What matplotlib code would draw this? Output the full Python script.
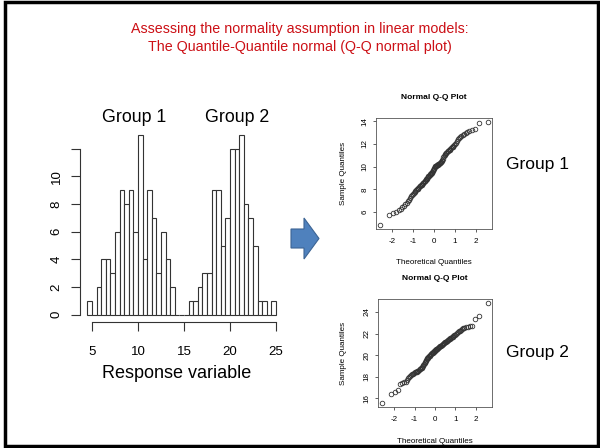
import numpy as np
import matplotlib
matplotlib.use("Agg")
import matplotlib.pyplot as plt
from matplotlib.patches import Polygon, Rectangle
from statistics import NormalDist

plt.rcParams['font.family'] = ['Liberation Sans', 'DejaVu Sans']
plt.rcParams['axes.unicode_minus'] = False

# histogram of the response variable (bins of 0.5 starting at 4.5)
bin_start = 4.5
bin_width = 0.5
counts = [1, 0, 2, 4, 4, 3, 6, 9, 8, 9, 6, 13, 4, 9, 7, 3, 6, 4, 2,
          0, 0, 0,
          1, 1, 2, 3, 3, 9, 9, 5, 7, 12, 12, 13, 8, 7, 5, 1, 1, 0, 1]
yticks = [0, 2, 4, 6, 8, 10, 12]
ytick_labels = ['0', '2', '4', '6', '8', '10', '']
xticks = [5, 10, 15, 20, 25]

# sorted sample values
group1 = [4.88, 5.78, 5.92, 6.05, 6.15, 6.3, 6.45, 6.55, 6.7, 6.85, 6.95,
          7.1, 7.25, 7.4, 7.55, 7.62, 7.7, 7.78, 7.86, 7.94,
          8.03, 8.08, 8.14, 8.2, 8.26, 8.32, 8.38, 8.43, 8.48,
          8.55, 8.6, 8.66, 8.72, 8.78, 8.84, 8.9, 8.96,
          9.03, 9.08, 9.14, 9.2, 9.26, 9.32, 9.38, 9.44, 9.48,
          9.55, 9.62, 9.7, 9.78, 9.86, 9.94,
          10.02, 10.05, 10.08, 10.11, 10.15, 10.19, 10.23, 10.27, 10.31, 10.35, 10.4, 10.44, 10.48,
          10.6, 10.72, 10.84, 10.95,
          11.04, 11.1, 11.16, 11.22, 11.28, 11.34, 11.4, 11.45, 11.49,
          11.56, 11.63, 11.7, 11.77, 11.84, 11.91, 11.97,
          12.1, 12.25, 12.4, 12.56, 12.64, 12.72, 12.8, 12.88, 12.95,
          13.05, 13.15, 13.25, 13.3, 13.88, 13.92]
group2 = [15.58, 16.4, 16.62, 16.8, 17.3, 17.4, 17.48, 17.55, 17.7, 17.9,
          18.03, 18.1, 18.16, 18.22, 18.28, 18.34, 18.4, 18.45, 18.49,
          18.53, 18.58, 18.63, 18.68, 18.73, 18.8, 18.86, 18.92, 18.97,
          19.05, 19.15, 19.25, 19.35, 19.45,
          19.55, 19.62, 19.7, 19.78, 19.86, 19.92, 19.97,
          20.04, 20.08, 20.12, 20.16, 20.2, 20.24, 20.28, 20.32, 20.36, 20.4, 20.44, 20.48,
          20.53, 20.57, 20.61, 20.65, 20.69, 20.73, 20.77, 20.81, 20.85, 20.89, 20.93, 20.97,
          21.02, 21.06, 21.1, 21.14, 21.18, 21.22, 21.26, 21.3, 21.34, 21.38, 21.42, 21.46, 21.49,
          21.55, 21.6, 21.66, 21.72, 21.78, 21.84, 21.9, 21.96,
          22.05, 22.12, 22.2, 22.28, 22.36, 22.42, 22.48,
          22.55, 22.6, 22.64, 22.68, 22.72,
          23.3, 23.65, 24.82]

fig = plt.figure(figsize=(6, 4.48), dpi=100)

# background layer in pixel coordinates
bg = fig.add_axes([0, 0, 1, 1])
bg.set_xlim(0, 600)
bg.set_ylim(448, 0)
bg.axis('off')
bg.add_patch(Rectangle((5, 2), 593, 444, fill=False, lw=2.5, ec='black'))
bg.text(300, 29, 'Assessing the normality assumption in linear models:',
        color='#cc1016', fontsize=10.3, ha='center', va='center')
bg.text(300, 47, 'The Quantile-Quantile normal (Q-Q normal plot)',
        color='#cc1016', fontsize=10.3, ha='center', va='center')
arrow = [(291, 229), (304, 229), (304, 218), (319, 238.5), (304, 259),
         (304, 248), (291, 248)]
bg.add_patch(Polygon(arrow, closed=True, fc='#4f81bd', ec='#3c6494', lw=0.8))
bg.text(134, 118, 'Group 1', fontsize=12.8, ha='center', va='center')
bg.text(237, 118, 'Group 2', fontsize=12.8, ha='center', va='center')
bg.text(537, 165, 'Group 1', fontsize=12.5, ha='center', va='center')
bg.text(537, 352, 'Group 2', fontsize=12.5, ha='center', va='center')

# histogram
edges = bin_start + bin_width * np.arange(len(counts))
ax = fig.add_axes([0.1332, 0.2819, 0.3393, 0.4326])
ax.bar(edges, counts, width=bin_width, align='edge', color='white',
       edgecolor='#333333', linewidth=0.8)
ax.set_xlim(3.68, 25.82)
ax.set_ylim(-0.52, 13.52)
ax.patch.set_alpha(0)
for s in ['top', 'right']:
    ax.spines[s].set_visible(False)
ax.spines['left'].set_bounds(0, 12)
ax.spines['bottom'].set_bounds(5, 25)
for s in ['left', 'bottom']:
    ax.spines[s].set_color('#333333')
    ax.spines[s].set_linewidth(0.8)
ax.set_yticks(yticks)
ax.set_yticklabels(ytick_labels, rotation=90, va='center')
ax.set_xticks(xticks)
ax.tick_params(direction='out', length=6.5, width=0.8, color='#333333',
               labelsize=9.5)
ax.tick_params(axis='x', pad=11)
ax.tick_params(axis='y', pad=6)
ax.set_xlabel('Response variable', fontsize=13)
ax.xaxis.set_label_coords((177 - 79.9) / 203.6, -(373 - 321.7) / 193.8)
ax.xaxis.label.set_va('center')


def qqplot(rect, values, yt, ylab_x, xlab_y, title_y):
    n = len(values)
    theo = [NormalDist().inv_cdf((i + 0.5) / n) for i in range(n)]
    q = fig.add_axes(rect)
    q.plot(theo, sorted(values), 'o', mfc='none', mec='#333333',
           ms=3.3, mew=0.6)
    q.margins(0.04)
    q.set_xticks([-2, -1, 0, 1, 2])
    q.set_yticks(yt)
    q.tick_params(direction='out', length=2.5, width=0.6, color='#444444',
                  labelsize=5.8, pad=3)
    q.tick_params(axis='x', pad=4)
    for lab in q.get_yticklabels():
        lab.set_rotation(90)
        lab.set_va('center')
    for s in q.spines.values():
        s.set_linewidth(0.6)
        s.set_color('#555555')
    q.set_xlabel('Theoretical Quantiles', fontsize=5.8)
    q.set_ylabel('Sample Quantiles', fontsize=5.8)
    q.xaxis.set_label_coords(0.5, xlab_y)
    q.xaxis.label.set_va('center')
    q.yaxis.set_label_coords(ylab_x, 0.5)
    q.yaxis.label.set_va('center')
    q.set_title('Normal Q-Q Plot', fontsize=6, fontweight='bold', y=title_y)
    return q


qqplot([0.6267, 0.4888, 0.1933, 0.2478], group1, [6, 8, 10, 12, 14],
       -0.284, -0.306, 1.1)
qqplot([0.63, 0.0915, 0.19, 0.241], group2, [16, 18, 20, 22, 24],
       -0.307, -0.315, 1.1)

fig.savefig('out.png', dpi=100)
